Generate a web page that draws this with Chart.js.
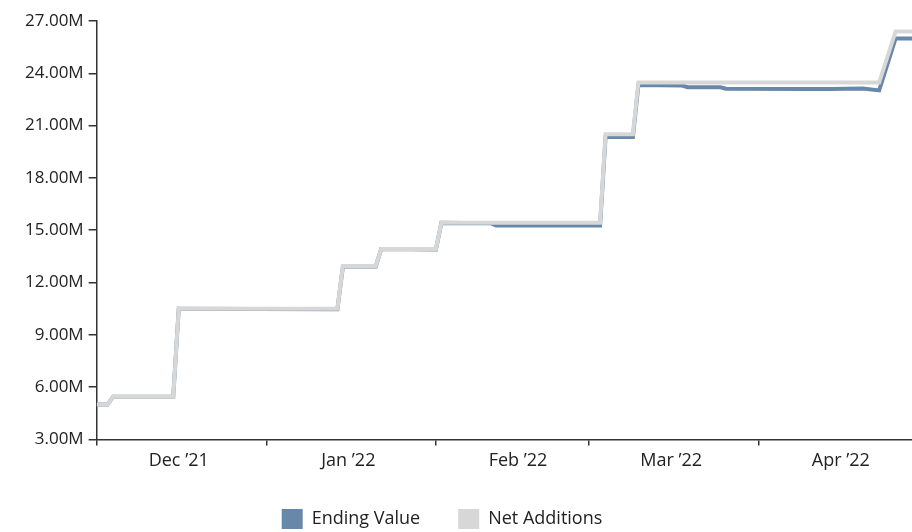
<!DOCTYPE html>
<html>
<head>
<meta charset="utf-8">
<script src="https://cdn.jsdelivr.net/npm/chart.js@4.4.1/dist/chart.umd.min.js"></script>
<style>
  html, body { margin: 0; padding: 0; background: #fff; }
  #wrap { width: 912px; height: 532px; position: relative; }
</style>
</head>
<body>
<div id="wrap"><canvas id="chart"></canvas></div>
<script>
// day index counted from Dec 1 '21
const days = [0, 2, 3, 14, 15, 44, 45, 51, 52, 62, 63, 72, 73, 92, 93, 98, 99, 107, 108, 114, 115, 130, 134, 140, 143, 146, 149];
// values in millions
const endingValue  = [5.0, 5.0, 5.45, 5.45, 10.5, 10.47, 12.92, 12.92, 13.92, 13.9, 15.42, 15.4, 15.27, 15.27, 20.35, 20.35, 23.33, 23.3, 23.2, 23.2, 23.12, 23.1, 23.1, 23.13, 23.02, 26.0, 26.0];
const netAdditions = [5.0, 5.0, 5.45, 5.45, 10.5, 10.5, 12.94, 12.94, 13.92, 13.92, 15.43, 15.43, 15.43, 15.43, 20.5, 20.5, 23.47, 23.47, 23.47, 23.47, 23.47, 23.47, 23.47, 23.47, 23.47, 26.4, 26.4];

const monthStarts = [0, 31, 62, 90, 121];
const labelDays = [15, 46, 77, 105, 136];
const monthLabels = ["Dec ’21", "Jan ’22", "Feb ’22", "Mar ’22", "Apr ’22"];

const yTicks = [3, 6, 9, 12, 15, 18, 21, 24, 27];

const blue = '#6788a8';
const grey = '#d7d7d7';
const axisColor = '#333333';
const fontFam = '"Open Sans", "Noto Sans", sans-serif';

function toPoints(vals){
    return days.map((d, i) => ({x: d, y: vals[i]}));
}

// legend sits a bit left of the canvas centre
const shiftLegend = {
    id: 'shiftLegend',
    afterLayout(chart){
        chart.legend.left -= 24;
        chart.legend.right -= 24;
    }
};

const ctx = document.getElementById('chart');

new Chart(
    ctx,
    {
        type: 'line',
        plugins: [shiftLegend],
        data: {
            datasets: [
                {
                    label: 'Ending Value',
                    data: toPoints(endingValue),
                    borderColor: blue,
                    backgroundColor: blue,
                    borderWidth: 4,
                    pointRadius: 0,
                    tension: 0,
                    order: 1
                },
                {
                    label: 'Net Additions',
                    data: toPoints(netAdditions),
                    borderColor: grey,
                    backgroundColor: grey,
                    borderWidth: 4,
                    pointRadius: 0,
                    tension: 0,
                    order: 0
                }
            ]
        },
        options: {
            responsive: true,
            maintainAspectRatio: false,
            animation: false,
            layout: {
                padding: {top: 21, right: 0, left: 20, bottom: -7}
            },
            plugins: {
                tooltip: { enabled: false },
                legend: {
                    position: 'bottom',
                    labels: {
                        boxWidth: 21,
                        boxHeight: 20,
                        padding: 38,
                        color: '#222',
                        font: { family: fontFam, size: 18 },
                        sort: (a, b) => a.datasetIndex - b.datasetIndex,
                        generateLabels: (chart) => Chart.defaults.plugins.legend.labels.generateLabels(chart)
                            .map(l => Object.assign(l, {lineWidth: 0}))
                    }
                }
            },
            scales: {
                x: {
                    type: 'linear',
                    min: 0,
                    max: 149,
                    afterBuildTicks: (scale) => {
                        scale.ticks = monthStarts.map(v => ({value: v})).concat(labelDays.map(v => ({value: v})));
                    },
                    afterFit: (scale) => { scale.height -= 6; },
                    border: { color: axisColor, width: 1.5 },
                    grid: {
                        drawOnChartArea: false,
                        tickLength: 6,
                        lineWidth: 1.5,
                        color: (c) => (c.tick && monthStarts.includes(c.tick.value)) ? axisColor : 'rgba(0,0,0,0)'
                    },
                    ticks: {
                        autoSkip: false,
                        maxRotation: 0,
                        padding: 5,
                        color: '#222',
                        font: { family: fontFam, size: 18 },
                        callback: (v) => {
                            const i = labelDays.indexOf(v);
                            return i >= 0 ? monthLabels[i] : '';
                        }
                    }
                },
                y: {
                    min: 3,
                    max: 27,
                    afterBuildTicks: (scale) => {
                        scale.ticks = yTicks.map(v => ({value: v}));
                    },
                    border: { color: axisColor, width: 1.5 },
                    grid: {
                        drawOnChartArea: false,
                        tickLength: 8,
                        lineWidth: 1.5,
                        color: axisColor
                    },
                    ticks: {
                        padding: 5,
                        color: '#222',
                        font: { family: fontFam, size: 17 },
                        callback: (v) => v.toFixed(2) + 'M'
                    }
                }
            }
        }
    }
);
</script>
</body>
</html>
